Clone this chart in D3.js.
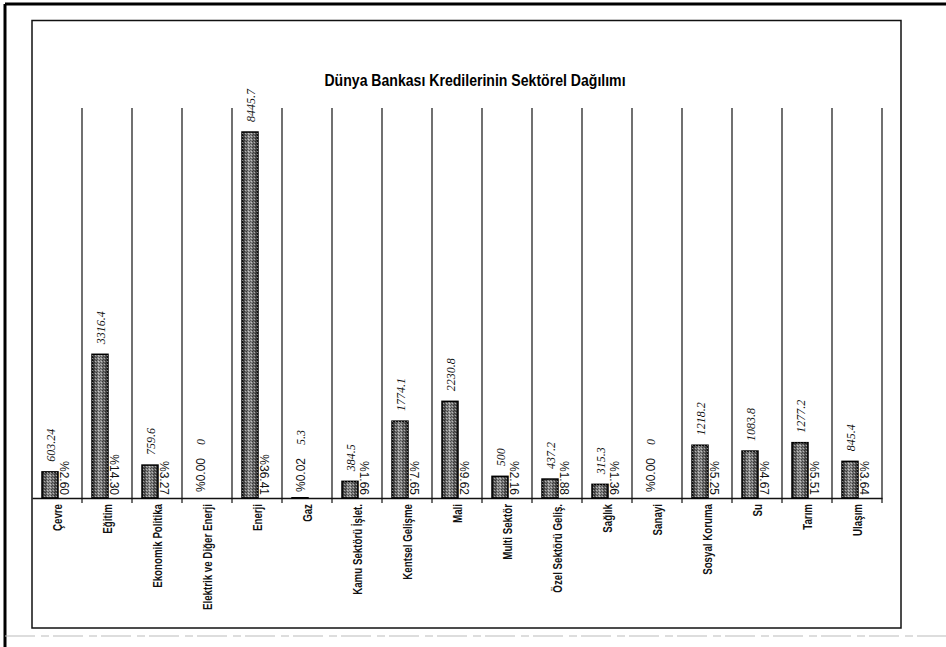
<!DOCTYPE html>
<html>
<head>
<meta charset="utf-8">
<script src="https://cdn.jsdelivr.net/npm/d3@7"></script>
<style>
  html, body { margin: 0; padding: 0; background: #fff; }
  svg { display: block; }
</style>
</head>
<body>
<svg id="chart" width="946" height="647"></svg>
<script>
const title = "Dünya Bankası Kredilerinin Sektörel Dağılımı";
const categories = ["Çevre", "Eğitim", "Ekonomik Politika", "Elektrik ve Diğer Enerji", "Enerji", "Gaz",
  "Kamu Sektörü İşlet.", "Kentsel Gelişme", "Mali", "Multi Sektör", "Özel Sektörü Geliş.", "Sağlık",
  "Sanayi", "Sosyal Koruma", "Su", "Tarım", "Ulaşım"];
const values = [603.24, 3316.4, 759.6, 0, 8445.7, 5.3, 384.5, 1774.1, 2230.8, 500, 437.2, 315.3, 0, 1218.2, 1083.8, 1277.2, 845.4];
const valueLabels = ["603.24", "3316.4", "759.6", "0", "8445.7", "5.3", "384.5", "1774.1", "2230.8", "500", "437.2", "315.3", "0", "1218.2", "1083.8", "1277.2", "845.4"];
const percentLabels = ["%2.60", "%14.30", "%3.27", "%0.00", "%36.41", "%0.02", "%1.66", "%7.65", "%9.62", "%2.16", "%1.88", "%1.36", "%0.00", "%5.25", "%4.67", "%5.51", "%3.64"];
const yMax = 9000;

const data = categories.map((c, i) => ({ c, v: values[i], vl: valueLabels[i], pl: percentLabels[i] }));

const svg = d3.select("#chart");

// page/scan borders
svg.append("line").attr("x1", 5).attr("y1", 4).attr("x2", 946).attr("y2", 4)
  .attr("stroke", "#000").attr("stroke-width", 3);
svg.append("line").attr("x1", 5).attr("y1", 4).attr("x2", 5).attr("y2", 647)
  .attr("stroke", "#000").attr("stroke-width", 3);
svg.append("line").attr("x1", 5).attr("y1", 636).attr("x2", 946).attr("y2", 636)
  .attr("stroke", "#bbb").attr("stroke-width", 1).attr("stroke-dasharray", "30,6,8,4");

// chart frame
svg.append("rect").attr("x", 32).attr("y", 20.5).attr("width", 869).attr("height", 607.5)
  .attr("fill", "none").attr("stroke", "#111").attr("stroke-width", 1.5);

svg.append("text").attr("transform", "translate(475,86) scale(0.88,1)").attr("text-anchor", "middle")
  .attr("font-family", "'Liberation Sans', Arial, sans-serif")
  .attr("font-weight", "bold").attr("font-size", 16).text(title);

const plotLeft = 32, plotRight = 882, plotTop = 108, base = 498;
const x = d3.scaleBand().domain(categories).range([plotLeft, plotRight]).padding(0);
const y = d3.scaleLinear().domain([0, yMax]).range([base, plotTop]);
const bw = x.bandwidth();

// gradient + dither texture for bars
const defs = svg.append("defs");
const grad = defs.append("linearGradient").attr("id", "barGrad").attr("x1", "0").attr("x2", "1").attr("y1", "0").attr("y2", "0");
grad.append("stop").attr("offset", "0%").attr("stop-color", "#2e2e2e");
grad.append("stop").attr("offset", "45%").attr("stop-color", "#9a9a9a");
grad.append("stop").attr("offset", "100%").attr("stop-color", "#383838");
const pat = defs.append("pattern").attr("id", "dither").attr("width", 3).attr("height", 3)
  .attr("patternUnits", "userSpaceOnUse");
pat.append("rect").attr("x", 0).attr("y", 0).attr("width", 1).attr("height", 1).attr("fill", "#000").attr("opacity", 0.5);
pat.append("rect").attr("x", 2).attr("y", 1).attr("width", 1).attr("height", 1).attr("fill", "#fff").attr("opacity", 0.5);
pat.append("rect").attr("x", 1).attr("y", 2).attr("width", 1).attr("height", 1).attr("fill", "#000").attr("opacity", 0.4);

// vertical separators (band boundaries) with ticks below baseline
const bounds = categories.slice(1).map(c => x(c)).concat([plotRight]);
svg.append("g").selectAll("line").data(bounds).join("line")
  .attr("x1", d => d).attr("x2", d => d)
  .attr("y1", plotTop).attr("y2", base + 5)
  .attr("stroke", "#111").attr("stroke-width", 1.2);

// baseline axis
const xAxis = d3.axisBottom(x).tickSize(0).tickFormat("");
const ax = svg.append("g").attr("transform", `translate(0,${base})`).call(xAxis);
ax.select(".domain").attr("stroke", "#111").attr("stroke-width", 1.5);

// bars
const barG = svg.append("g");
barG.selectAll("rect.bar").data(data).join("rect").attr("class", "bar")
  .attr("x", d => x(d.c) + bw * 0.2)
  .attr("width", bw * 0.32)
  .attr("y", d => y(d.v))
  .attr("height", d => base - y(d.v))
  .attr("fill", "url(#barGrad)")
  .attr("stroke", d => d.v > 0 ? "#000" : "none")
  .attr("stroke-width", 1.5);
barG.selectAll("rect.tex").data(data.filter(d => d.v > 0)).join("rect").attr("class", "tex")
  .attr("x", d => x(d.c) + bw * 0.2)
  .attr("width", bw * 0.32)
  .attr("y", d => y(d.v))
  .attr("height", d => base - y(d.v))
  .attr("fill", "url(#dither)");

// value labels (rotated, italic serif)
svg.append("g").selectAll("text").data(data).join("text")
  .attr("transform", d => {
    const cx = x(d.c) + bw * 0.36 + 5;
    const yy = d.v < 10 ? 445 : y(d.v) - 10;
    return `translate(${cx},${yy}) rotate(-90)`;
  })
  .attr("font-family", "'Liberation Serif', 'Times New Roman', serif")
  .attr("font-style", "italic").attr("font-size", 12)
  .attr("fill", "#111")
  .text(d => d.vl);

// percent labels
svg.append("g").selectAll("text").data(data).join("text")
  .attr("transform", d => {
    if (d.v < 10) {
      return `translate(${x(d.c) + bw * 0.36 + 5},${492}) rotate(-90)`;
    }
    return `translate(${x(d.c) + bw * 0.52 + 1.5},${495}) rotate(90)`;
  })
  .attr("text-anchor", d => d.v < 10 ? "start" : "end")
  .attr("font-family", "'Liberation Sans', Arial, sans-serif")
  .attr("font-size", 12).attr("fill", "#111")
  .text(d => d.pl);

// category labels
svg.append("g").selectAll("text").data(data).join("text")
  .attr("transform", d => `translate(${x(d.c) + bw / 2 + 5},${504}) rotate(-90) scale(0.78,1)`)
  .attr("text-anchor", "end")
  .attr("font-family", "'Liberation Sans', Arial, sans-serif")
  .attr("font-weight", "bold")
  .attr("font-size", 12.5).attr("fill", "#111")
  .text(d => d.c);
</script>
</body>
</html>
